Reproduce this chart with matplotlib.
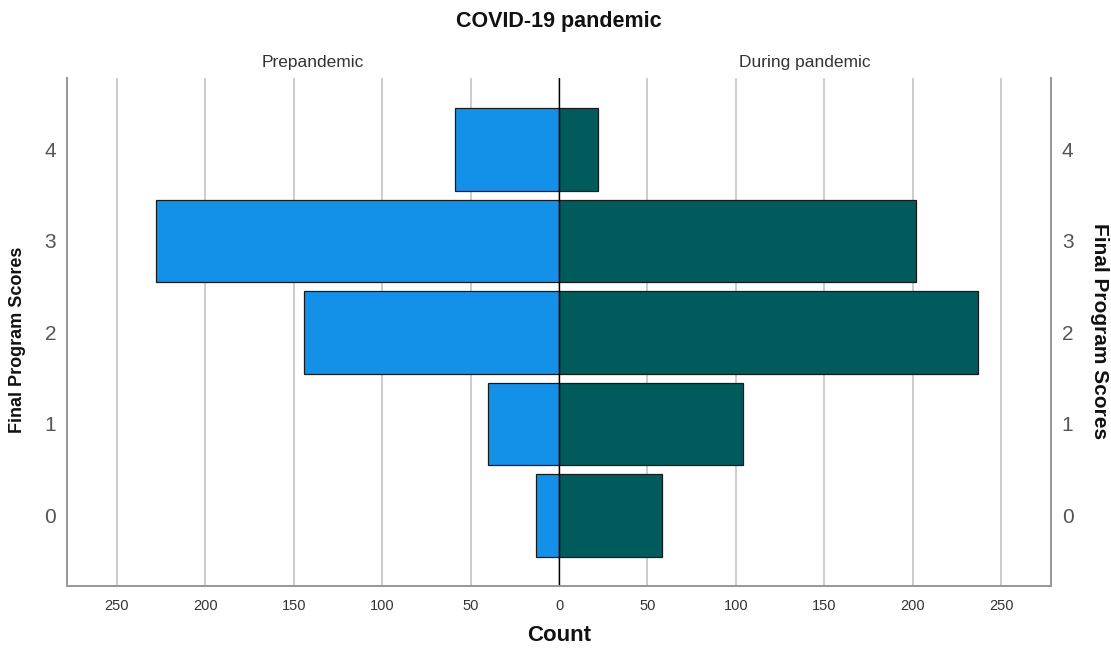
import matplotlib
matplotlib.use("Agg")
import matplotlib.pyplot as plt
from matplotlib.ticker import FixedLocator, FuncFormatter

plt.rcParams['font.family'] = ['Liberation Sans', 'DejaVu Sans']

scores = [0, 1, 2, 3, 4]
prepandemic = [13, 40, 144, 228, 59]
during = [58, 104, 237, 202, 22]
x_ticks = [-250, -200, -150, -100, -50, 0, 50, 100, 150, 200, 250]

blue = '#1390E8'
teal = '#005C5C'

W, H = 1111, 652
fig = plt.figure(figsize=(W / 100, H / 100), dpi=100)
ax = fig.add_axes([67.3 / W, 1 - 586 / H, (1050.7 - 67.3) / W, (586 - 78) / H])

ax.barh(scores, [-v for v in prepandemic], height=0.9, color=blue, edgecolor='#1a1a1a', linewidth=0.9, zorder=3)
ax.barh(scores, during, height=0.9, color=teal, edgecolor='#1a1a1a', linewidth=0.9, zorder=3)

ax.set_xlim(-278, 278)
ax.set_ylim(-0.77, 4.78)
ax.axvline(0, color='black', linewidth=1.0, zorder=4)

ax.xaxis.set_major_locator(FixedLocator(x_ticks))
ax.xaxis.set_major_formatter(FuncFormatter(lambda v, p: f"{abs(int(v))}"))
ax.grid(axis='x', color='#c8c8c8', linewidth=1.3, zorder=0)
ax.tick_params(axis='x', length=0, pad=9, labelsize=10.5, labelcolor='#333333')

ax.set_yticks(scores)
ax.set_yticklabels([str(s) for s in scores])
ax.tick_params(axis='y', length=0, pad=8, labelsize=15, labelcolor='#555555')

ax2 = ax.twinx()
ax2.set_ylim(ax.get_ylim())
ax2.set_yticks(scores)
ax2.set_yticklabels([str(s) for s in scores])
ax2.tick_params(axis='y', length=0, pad=8, labelsize=15, labelcolor='#555555')

for a in (ax, ax2):
    a.spines['top'].set_visible(False)
    for s in ('left', 'right', 'bottom'):
        a.spines[s].set_color('#999999')
        a.spines[s].set_linewidth(1.3)

ax.set_xlabel('Count', fontsize=16, fontweight='bold', labelpad=9, color='#111111')

fig.text(18 / W, 1 - 340 / H, 'Final Program Scores', rotation=90, ha='center', va='center',
         fontsize=13, fontweight='bold', color='#111111')
fig.text(1099 / W, 1 - 331 / H, 'Final Program Scores', rotation=-90, ha='center', va='center',
         fontsize=15, fontweight='bold', color='#111111')

fig.text(559 / W, 1 - 22 / H, 'COVID-19 pandemic', ha='center', va='center',
         fontsize=15.5, fontweight='bold', color='#111111')
fig.text(313 / W, 1 - 62 / H, 'Prepandemic', ha='center', va='center', fontsize=12.5, color='#333333')
fig.text(805 / W, 1 - 62 / H, 'During pandemic', ha='center', va='center', fontsize=12.5, color='#333333')

fig.savefig('out.png', dpi=100, facecolor='white')
